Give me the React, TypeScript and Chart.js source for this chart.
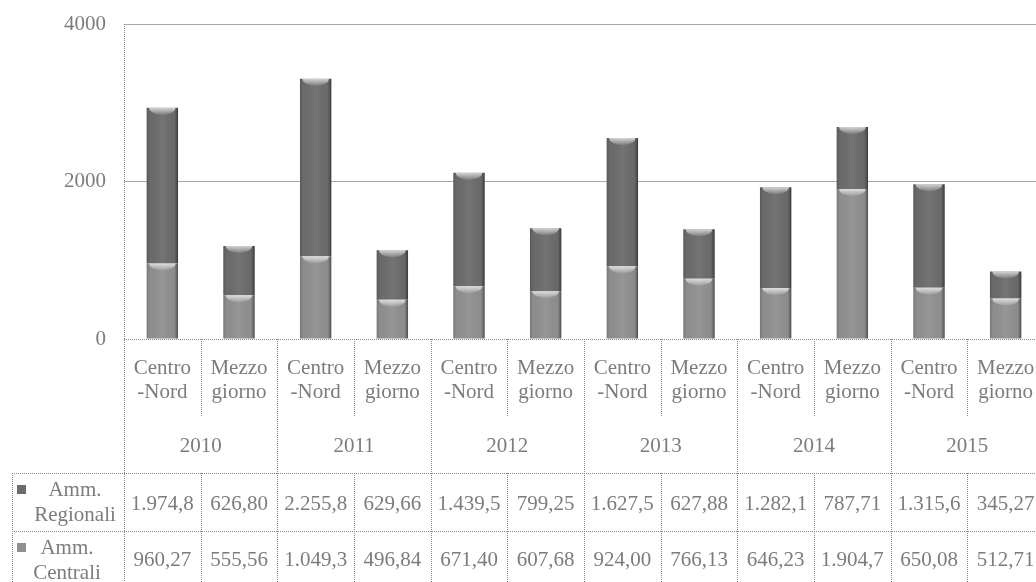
import React, { useEffect, useRef } from "react";
import { Chart, registerables } from "chart.js";

Chart.register(...registerables);

const years = ["2010", "2011", "2012", "2013", "2014", "2015"];
const regionLines = [
  ["Centro", "-Nord"],
  ["Mezzo", "giorno"],
];
const seriesNames = [
  ["Amm.", "Regionali"],
  ["Amm.", "Centrali"],
];
const regionali = [1974.8, 626.8, 2255.8, 629.66, 1439.5, 799.25, 1627.5, 627.88, 1282.1, 787.71, 1315.6, 345.27];
const centrali = [960.27, 555.56, 1049.3, 496.84, 671.4, 607.68, 924.0, 766.13, 646.23, 1904.7, 650.08, 512.71];
const yTicks = [0, 2000, 4000];

const FONT = '"Liberation Serif", "Times New Roman", serif';
const FONT_SIZE = 21;
const TEXT = "#7c7c7c";
const LINE = "#8a8a8a";
const COL_REG = "#6c6c6c";
const COL_CEN = "#909090";

function formatValue(v: number): string {
  if (v >= 1000) {
    const s = v.toFixed(1);
    const [ip, dp] = s.split(".");
    const withSep = ip.replace(/\B(?=(\d{3})+(?!\d))/g, ".");
    return withSep + "," + dp;
  }
  return v.toFixed(2).replace(".", ",");
}

const labels: string[] = [];
years.forEach((y) => regionLines.forEach((r) => labels.push(y + " " + r.join(""))));

const barShading = {
  id: "barShading",
  afterDatasetsDraw(chart: any) {
    const ctx = chart.ctx;
    chart.data.datasets.forEach((_: any, di: number) => {
      const meta = chart.getDatasetMeta(di);
      meta.data.forEach((el: any) => {
        const { x, y, base, width } = el.getProps(["x", "y", "base", "width"], true);
        const left = x - width / 2;
        const top = Math.min(y, base);
        const h = Math.abs(base - y);
        ctx.save();
        ctx.beginPath();
        ctx.rect(left, top, width, h);
        ctx.clip();
        const g = ctx.createLinearGradient(left, 0, left + width, 0);
        g.addColorStop(0, "rgba(0,0,0,0.18)");
        g.addColorStop(0.1, "rgba(0,0,0,0.02)");
        g.addColorStop(0.5, "rgba(255,255,255,0.06)");
        g.addColorStop(0.88, "rgba(0,0,0,0.02)");
        g.addColorStop(0.95, "rgba(0,0,0,0.25)");
        g.addColorStop(1, "rgba(0,0,0,0.5)");
        ctx.fillStyle = g;
        ctx.fillRect(left, top, width, h);
        const vg = ctx.createLinearGradient(0, top, 0, top + 8);
        vg.addColorStop(0, "rgba(255,255,255,0.7)");
        vg.addColorStop(1, "rgba(255,255,255,0)");
        ctx.fillStyle = vg;
        ctx.beginPath();
        ctx.ellipse(x, top, width * 0.42, 7, 0, 0, Math.PI * 2);
        ctx.fill();
        ctx.restore();
      });
    });
  },
};

const dataTable = {
  id: "dataTable",
  afterDraw(chart: any) {
    const ctx = chart.ctx;
    const xs = chart.scales.x;
    const area = chart.chartArea;
    const n = labels.length;
    const cw = (area.right - area.left) / n;
    const yAxis = area.bottom;
    const yInnerEnd = yAxis + 78;
    const yRow1 = yAxis + 134;
    const yRow2 = yAxis + 192;
    const yEnd = chart.height;
    const tableLeft = 12;

    ctx.save();
    ctx.strokeStyle = LINE;
    ctx.lineWidth = 1;
    ctx.setLineDash([1, 1]);
    const line = (x1: number, y1: number, x2: number, y2: number) => {
      ctx.beginPath();
      ctx.moveTo(x1, y1);
      ctx.lineTo(x2, y2);
      ctx.stroke();
    };
    line(area.left + 0.5, area.top, area.left + 0.5, yEnd);
    line(area.left, yAxis + 0.5, area.right, yAxis + 0.5);
    for (let i = 1; i <= n; i++) {
      const x = Math.round(area.left + i * cw) + 0.5;
      if (i % 2 === 0) {
        line(x, yAxis, x, yEnd);
      } else {
        line(x, yAxis, x, yInnerEnd);
        line(x, yRow1, x, yEnd);
      }
    }
    line(tableLeft, yRow1 + 0.5, area.right, yRow1 + 0.5);
    line(tableLeft, yRow2 + 0.5, area.right, yRow2 + 0.5);
    line(tableLeft + 0.5, yRow1, tableLeft + 0.5, yEnd);
    ctx.setLineDash([]);

    ctx.fillStyle = TEXT;
    ctx.font = FONT_SIZE + "px " + FONT;
    ctx.textAlign = "center";
    ctx.textBaseline = "middle";
    for (let i = 0; i < n; i++) {
      const cx = xs.getPixelForValue(i);
      const rl = regionLines[i % 2];
      ctx.fillText(rl[0], cx, yAxis + 29);
      ctx.fillText(rl[1], cx, yAxis + 53);
      ctx.fillText(formatValue(regionali[i]), cx, yRow1 + 31);
      ctx.fillText(formatValue(centrali[i]), cx, yRow2 + 29);
    }
    years.forEach((yr, k) => {
      const cx = (xs.getPixelForValue(2 * k) + xs.getPixelForValue(2 * k + 1)) / 2;
      ctx.fillText(yr, cx, yAxis + 107);
    });
    const headers = [
      { lines: seriesNames[0], color: COL_REG, y: yRow1, cx: 75 },
      { lines: seriesNames[1], color: COL_CEN, y: yRow2, cx: 67 },
    ];
    headers.forEach((h) => {
      ctx.fillStyle = h.color;
      ctx.fillRect(17, h.y + 12, 9, 9);
      ctx.fillStyle = TEXT;
      ctx.fillText(h.lines[0], h.cx, h.y + 17);
      ctx.fillText(h.lines[1], h.cx, h.y + 42);
    });
    ctx.restore();
  },
};

export default function App() {
  const ref = useRef<HTMLCanvasElement | null>(null);
  useEffect(() => {
    if (!ref.current) return;
    const chart = new Chart(ref.current, {
      type: "bar",
      data: {
        labels,
        datasets: [
          {
            label: seriesNames[1].join(" "),
            data: centrali,
            backgroundColor: COL_CEN,
            stack: "s",
            categoryPercentage: 1,
            barPercentage: 0.41,
          },
          {
            label: seriesNames[0].join(" "),
            data: regionali,
            backgroundColor: COL_REG,
            stack: "s",
            categoryPercentage: 1,
            barPercentage: 0.41,
          },
        ],
      },
      options: {
        responsive: false,
        animation: false,
        layout: { padding: { left: 0, top: 24, right: 4, bottom: 243 } },
        plugins: { legend: { display: false }, tooltip: { enabled: false } },
        scales: {
          x: { display: false, stacked: true },
          y: {
            stacked: true,
            min: 0,
            max: 4000,
            afterBuildTicks: (scale: any) => {
              scale.ticks = yTicks.map((v) => ({ value: v }));
            },
            afterFit: (scale: any) => {
              scale.width = 124;
              scale.paddingTop = 0;
              scale.paddingBottom = 0;
            },
            border: { display: false },
            grid: {
              drawTicks: false,
              color: (c: any) => (c.tick && c.tick.value === 0 ? "rgba(0,0,0,0)" : "#a8a8a8"),
            },
            ticks: {
              padding: 18,
              color: TEXT,
              font: { family: FONT, size: FONT_SIZE },
              callback: (v: any) => String(v),
            },
          },
        },
      },
      plugins: [barShading, dataTable],
    });
    return () => chart.destroy();
  }, []);
  return (
    <div style={{ position: "fixed", left: 0, top: 0, width: 1036, height: 582, overflow: "hidden", background: "#fff" }}>
      <canvas ref={ref} width={1048} height={582} style={{ display: "block" }} />
    </div>
  );
}
